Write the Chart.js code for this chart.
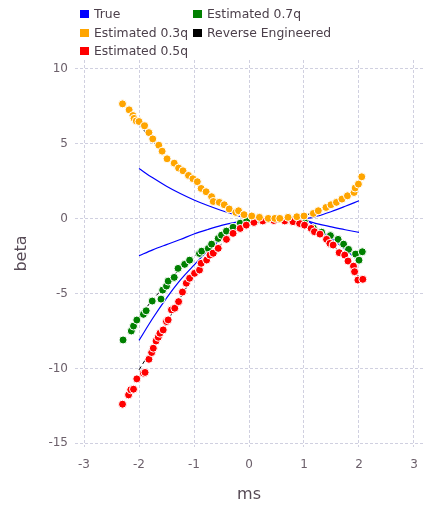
<!DOCTYPE html>
<html>
<head>
<meta charset="utf-8">
<script src="https://cdn.jsdelivr.net/npm/chart.js@4"></script>
<style>
  html, body { margin:0; padding:0; background:#ffffff; }
  #wrap { position:relative; width:430px; height:508px; }
  canvas { position:absolute; left:0; top:0; }
  .item { position:absolute; height:16px; line-height:16px; font-family:"DejaVu Sans", sans-serif; font-size:12.4px; color:#4c404b; white-space:nowrap; }
  .sw { position:absolute; width:9px; height:8px; }
  .lbl { position:absolute; }
</style>
</head>
<body>
<div id="wrap">
  <canvas id="c" width="430" height="508"></canvas>
  <div id="legend"></div>
</div>
<script>
// ---------- data ----------
const legendLabels = ["True", "Estimated 0.3q", "Estimated 0.5q", "Estimated 0.7q", "Reverse Engineered"];
const legendColors = ["#0000ff", "#ffa500", "#ff0000", "#008000", "#000000"];

const xTicks = [-3, -2, -1, 0, 1, 2, 3];
const yTicks = [-15, -10, -5, 0, 5, 10];

// Estimated 0.3q (orange)
const est03X = [-2.30,-2.18,-2.11,-2.09,-2.05,-2.00,-1.90,-1.82,-1.75,-1.64,-1.58,-1.49,-1.36,-1.28,-1.20,-1.10,-1.02,-0.94,-0.87,-0.78,-0.68,-0.65,-0.54,-0.45,-0.36,-0.24,-0.19,-0.09,0.05,0.19,0.35,0.47,0.56,0.71,0.87,1.00,1.17,1.26,1.40,1.49,1.59,1.69,1.79,1.91,1.93,1.99,2.05];
const est03Y = [7.67,7.27,6.89,6.70,6.53,6.49,6.20,5.75,5.33,4.91,4.51,4.00,3.71,3.38,3.20,2.89,2.67,2.47,2.02,1.80,1.47,1.15,1.09,0.93,0.65,0.42,0.53,0.27,0.18,0.09,0.02,0.02,0.02,0.09,0.13,0.18,0.35,0.53,0.75,0.93,1.09,1.31,1.53,1.75,2.05,2.31,2.80];

// Estimated 0.5q (red)
const est05X = [-2.30,-2.19,-2.15,-2.10,-2.04,-1.92,-1.89,-1.82,-1.77,-1.74,-1.69,-1.65,-1.62,-1.56,-1.50,-1.47,-1.41,-1.35,-1.28,-1.21,-1.14,-1.08,-0.99,-0.90,-0.87,-0.77,-0.71,-0.65,-0.56,-0.41,-0.29,-0.16,-0.05,0.09,0.25,0.45,0.65,0.80,0.92,1.01,1.13,1.19,1.29,1.41,1.47,1.53,1.64,1.74,1.80,1.90,1.92,1.98,2.07];
const est05Y = [-12.39,-11.77,-11.43,-11.39,-10.70,-10.32,-10.27,-9.39,-8.94,-8.65,-8.17,-7.92,-7.65,-7.43,-6.87,-6.76,-6.09,-5.98,-5.54,-4.90,-4.31,-3.98,-3.65,-3.43,-2.98,-2.76,-2.43,-2.31,-1.98,-1.38,-0.98,-0.65,-0.43,-0.25,-0.15,-0.12,-0.15,-0.20,-0.32,-0.43,-0.65,-0.87,-1.03,-1.38,-1.65,-1.76,-2.27,-2.43,-2.83,-3.17,-3.54,-4.10,-4.05];

// Estimated 0.7q (green)
const est07X = [-2.29,-2.14,-2.10,-2.04,-1.92,-1.87,-1.76,-1.60,-1.57,-1.50,-1.47,-1.36,-1.29,-1.17,-1.08,-0.90,-0.86,-0.74,-0.68,-0.56,-0.50,-0.41,-0.29,-0.16,-0.04,0.15,0.35,0.55,0.75,0.90,1.01,1.17,1.32,1.48,1.62,1.72,1.81,1.94,2.06,2.00];
const est07Y = [-8.10,-7.50,-7.17,-6.77,-6.39,-6.15,-5.50,-5.37,-4.77,-4.50,-4.17,-3.92,-3.32,-3.05,-2.77,-2.32,-2.17,-1.99,-1.70,-1.32,-1.10,-0.83,-0.57,-0.30,-0.13,-0.05,-0.02,-0.02,-0.05,-0.10,-0.23,-0.63,-0.90,-1.13,-1.38,-1.70,-2.05,-2.37,-2.21,-2.77];

// True curves (one per quantile) on a common grid
const trueX  = [-2,-1.75,-1.5,-1.25,-1,-0.75,-0.5,-0.25,0,0.25,0.5,0.75,1,1.25,1.5,1.75,2];
const true03 = [3.35,2.73,2.17,1.68,1.25,0.88,0.55,0.26,0,0,0,0,0,0.18,0.48,0.83,1.20];
const true05 = [-8.13,-6.65,-5.30,-4.10,-3.10,-2.15,-1.35,-0.70,-0.25,-0.15,-0.15,-0.15,-0.05,-0.70,-1.30,-2.05,-2.85];
const true07 = [-2.47,-2.08,-1.73,-1.39,-1.02,-0.72,-0.45,-0.25,-0.10,-0.05,-0.05,-0.05,-0.10,-0.35,-0.55,-0.74,-0.91];

// Reverse engineered curves (one per quantile)
const revX  = [-2,-1.75,-1.5,-1.25,-1,-0.75,-0.5,-0.25,0,0.25,0.5,0.75,1,1.25,1.5,1.75,2];
const rev03 = [6.30,5.20,4.00,3.20,2.55,1.70,1.00,0.45,0.15,0.06,0.02,0.07,0.20,0.55,0.90,1.40,2.30];
const rev05 = [-10.10,-8.60,-7.00,-5.30,-3.80,-2.60,-1.70,-0.90,-0.35,-0.15,-0.10,-0.20,-0.45,-1.05,-1.75,-2.60,-3.90];
const rev07 = [-6.60,-5.40,-4.40,-3.30,-2.50,-1.90,-1.10,-0.50,-0.10,-0.03,-0.03,-0.03,-0.25,-0.80,-1.20,-1.80,-2.50];

// ---------- helpers ----------
const pts = (xs, ys) => xs.map((x, i) => ({x: x, y: ys[i]}));

function scatterSet(label, xs, ys, color, order) {
  return { label, data: pts(xs, ys), showLine: false, pointRadius: 4, pointHoverRadius: 4,
           pointBackgroundColor: color, pointBorderColor: '#ffffff', pointBorderWidth: 1, order };
}
function lineSet(label, xs, ys, color, dash, order) {
  return { label, data: pts(xs, ys), showLine: true, pointRadius: 0, borderColor: color,
           borderWidth: dash.length ? 1 : 1.2, borderDash: dash, cubicInterpolationMode: 'monotone',
           fill: false, order };
}

const datasets = [
  lineSet(legendLabels[4], revX, rev03, '#000000', [4, 3], 6),
  lineSet(legendLabels[4], revX, rev05, '#000000', [4, 3], 6),
  lineSet(legendLabels[4], revX, rev07, '#000000', [4, 3], 6),
  lineSet(legendLabels[0], trueX, true03, '#0000ff', [], 5),
  lineSet(legendLabels[0], trueX, true05, '#0000ff', [], 5),
  lineSet(legendLabels[0], trueX, true07, '#0000ff', [], 5),
  scatterSet(legendLabels[3], est07X, est07Y, '#008000', 3),
  scatterSet(legendLabels[2], est05X, est05Y, '#ff0000', 2),
  scatterSet(legendLabels[1], est03X, est03Y, '#ffa500', 1)
];

const tickFont = { family: 'DejaVu Sans', size: 12 };
const titleFont = { family: 'DejaVu Sans', size: 16 };

new Chart(document.getElementById('c'), {
  type: 'scatter',
  data: { datasets },
  options: {
    responsive: false,
    animation: false,
    events: [],
    layout: { padding: { left: 0, right: 7, top: 60, bottom: 0 } },
    plugins: { legend: { display: false }, tooltip: { enabled: false } },
    scales: {
      x: {
        type: 'linear', min: -3.164, max: 3.164,
        afterBuildTicks: s => { s.ticks = xTicks.map(v => ({ value: v })); },
        afterFit: s => { s.height = 61; },
        grid: { color: '#d0d0e0', lineWidth: 1, drawTicks: false },
        border: { display: false, dash: [3, 2] },
        ticks: { font: tickFont, color: '#6c606b', padding: 11, maxRotation: 0 },
        title: { display: true, text: 'ms', font: titleFont, color: '#564a55', padding: { top: 0, bottom: 4 } }
      },
      y: {
        type: 'linear', min: -15.25, max: 10.6,
        afterBuildTicks: s => { s.ticks = yTicks.map(v => ({ value: v })); },
        afterFit: s => { s.width = 75; },
        grid: { color: '#d0d0e0', lineWidth: 1, drawTicks: false },
        border: { display: false, dash: [3, 2] },
        ticks: { font: tickFont, color: '#6c606b', padding: 7 },
        title: { display: true, text: 'beta', font: titleFont, color: '#564a55', padding: { top: 12, bottom: 0 } }
      }
    }
  }
});

// ---------- legend (column-major, 3 rows) ----------
const legend = document.getElementById('legend');
const colLeft = [80, 193];
const rowCenter = [13.7, 32.5, 51];
legendLabels.forEach((lab, i) => {
  const col = Math.floor(i / 3), row = i % 3;
  const it = document.createElement('div');
  it.className = 'item';
  it.style.left = colLeft[col] + 'px';
  it.style.top = (rowCenter[row] - 8) + 'px';
  const sw = document.createElement('div');
  sw.className = 'sw';
  sw.style.left = '0px';
  sw.style.top = '4px';
  sw.style.background = legendColors[i];
  const t = document.createElement('span');
  t.className = 'lbl';
  t.style.left = '14px';
  t.style.top = '0px';
  t.textContent = lab;
  it.appendChild(sw); it.appendChild(t);
  legend.appendChild(it);
});
</script>
</body>
</html>
